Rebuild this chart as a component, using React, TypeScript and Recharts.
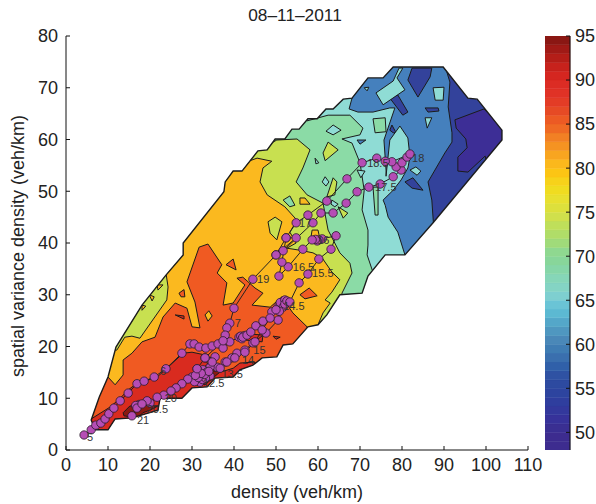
import { Bar, BarChart, Scatter, ScatterChart, XAxis, YAxis } from "recharts";

type Pt = [number, number];

// contour fills, low to high speed
const C_PURPLE = "#3d2e96";
const C_DARK = "#33429b";
const C_BLUE = "#4580bd";
const C_CYAN = "#8fdcd5";
const C_GREEN = "#8bdba6";
const C_LIME = "#c8e050";
const C_AMBER = "#fbb91f";
const C_ORANGE = "#f05a22";
const C_RED = "#d92b1f";
const C_DEEP = "#8a1a12";

const xTicks = [0, 10, 20, 30, 40, 50, 60, 70, 80, 90, 100, 110];
const yTicks = [0, 10, 20, 30, 40, 50, 60, 70, 80];
const barTicks = [50, 55, 60, 65, 70, 75, 80, 85, 90, 95];

// the area that has data at all
const outline: Pt[] = [[6,5.8],[7.9,10.2],[10,14.1],[11.9,19.9],[18.1,28],[23.8,33.8],[27.9,37.7],[27.9,40],[37.6,49.9],[37.9,51.8],[39.8,53.9],[41.9,53.9],[45.7,57.8],[47.9,58],[49.8,60.1],[52.1,60.1],[53.8,62],[55.5,62],[57.6,64],[59.8,64],[61.9,65.9],[63.6,65.9],[66,67.8],[68.1,68],[71.9,71.9],[75.5,71.9],[77.9,74],[89.8,74],[95.7,68],[97.9,67.8],[103.8,61.8],[103.8,59.9],[87.4,43.9],[80.7,37.7],[76,37.7],[71.9,33.6],[70.5,30.3],[65.2,30],[62.1,26.1],[60,24.2],[57.6,23.8],[54,20.5],[51.7,20.3],[50.2,18],[46.7,17.8],[44.5,16.4],[41.4,15.5],[39.8,14.1],[35.5,13.9],[33.6,12.2],[30,12],[27.6,10],[22.4,10],[21.9,7.7],[15.7,6.2],[11.7,6],[10,3.9],[6.9,3.9]];

// filled levels, each painted over the one before and cut to the outline
const purpleLevel: Pt[] = [[92.6,63.8],[99.5,65.9],[104.5,61.8],[104.5,59.9],[100,56],[99.8,56.8],[95.7,53.7],[93.3,53.9],[93.3,56.6],[95.5,58.4],[95.2,60.1],[92.9,62.2]];
const blueLevel: Pt[] = [[89.8,75.4],[91.4,71.1],[91,66.3],[91.9,61.3],[91.9,59.5],[90.2,57.4],[86.2,51.8],[87.1,48.3],[87.6,42.5],[84.3,34.8],[55.7,0],[0,0],[0,67.6],[65.2,75.4]];
const cyanLevel: Pt[] = [[68.1,69.6],[68.1,68],[67.4,65.9],[69.5,65.3],[73.1,65.3],[77.1,66.1],[78.3,66.1],[75.7,59.9],[76.2,54.1],[76.2,52.9],[77.1,59.9],[79.5,62.6],[81.4,60.3],[81.9,56.6],[81.4,54.5],[79.8,52.2],[77.9,50.2],[75.5,48.3],[76,47.3],[76.7,45],[79,42.1],[80.7,37.7],[84.3,34.8],[55.7,0],[0,0],[0,67.6]];
const greenLevel: Pt[] = [[57.4,67.6],[57.4,63.6],[62.4,64.7],[67.6,64.7],[70.7,62.2],[70,60.9],[65.7,60.1],[68.1,59.3],[70,55.5],[71,50.2],[70.5,46.4],[71.9,42.5],[71.9,39.6],[71.7,37.7],[72.9,34.8],[77.1,29],[55.7,0],[0,0],[0,67.6]];
const limeLevel: Pt[] = [[45,61.8],[45,57.6],[50.2,59.9],[55,60.1],[58.1,58],[56.4,54.5],[54.8,51.8],[57.4,49.3],[61.2,47.7],[62.4,42.5],[65.2,38.1],[67.6,36.1],[68.1,34.2],[65.7,30.3],[66.4,27.1],[43.8,0],[0,0],[0,61.8]];
const amberLevel: Pt[] = [[31.9,58],[42.6,57],[43.1,55.7],[45.5,56.4],[49,55.8],[46.9,54.5],[46.2,51.8],[47.9,49.3],[52.1,47],[55,44.4],[53.3,42.1],[54.8,40],[52.6,39],[55.7,38.6],[58.8,38.1],[61,37.1],[63.3,34.4],[65.2,32.9],[63.3,30.5],[61.7,29],[62.9,28.4],[61.2,26.5],[60,24.2],[60,21.3],[43.8,0],[0,0],[8.1,19.3],[12.1,19.3],[14,21.8],[15.7,22],[17.6,21.6],[24,29],[24.3,31.5],[23.8,34.2],[22.4,34.8]];
const orangeLevel: Pt[] = [[10,14.1],[11.7,12.6],[13.6,14.5],[13.6,17.4],[15.7,18.7],[18.1,20.9],[21.2,21.8],[23.1,25.7],[26,28.4],[28.8,27.4],[30,23.8],[31.9,23.6],[30.7,28.6],[28.8,32.5],[31.7,39.2],[33.8,39.8],[37.1,35.8],[36,34.2],[38.3,32.3],[37.4,28],[39.8,28.4],[42.6,31.9],[40.7,33.2],[42.1,33.4],[45,31.3],[46.9,30.3],[44.3,28],[48.6,27.6],[51.4,29.6],[54,26.5],[57.4,23.8],[58.1,20.3],[43.8,0],[0,0],[0,9.7]];
const redLevel: Pt[] = [[6,6],[10.5,8.3],[12.9,10],[14.8,11.6],[16.9,12.9],[21.7,14.1],[24,15.8],[27.9,18.7],[30,18.9],[32.9,18.4],[33.8,16.4],[36.2,14.9],[39.8,15.8],[41.4,16.8],[45,17],[45,14.5],[20,0],[0,0],[0,5.8]];

// small closed contours
const darkIslands: Pt[][] = [
  [[82.4,73.8],[87.1,73.8],[86.7,72.1],[83.8,68.2],[81.4,71.5]],
  [[77.1,68],[79,68.6],[81.4,65.3],[80.2,64.7]],
  [[85.5,66.1],[88.6,66.1],[88.8,65.5],[86.2,65.3]],
  [[77.6,62.8],[78.6,61.3],[77.9,61.3],[77.1,61.8]],
  [[80.7,51.8],[82.6,52.6],[85,50.2],[82.4,50.6]],
];
const blueIslands: Pt[][] = [[[69.3,59.9],[71.4,59.9],[70,59.1]]];
const cyanIslands: Pt[][] = [
  [[79.3,73.8],[77.9,71.3],[73.8,69],[75.5,66.7],[80.7,69.6],[78.8,71.9],[80.2,73.8]],
  [[71,70],[72.1,70.1],[71.7,69.4]],
  [[81.9,54.1],[83.3,54.7],[84.5,53.9],[83.6,53.1]],
  [[85.5,64.2],[87.1,64.2],[86,62.2]],
  [[87.4,70],[90,70.1],[89.8,67.6],[87.9,67.6]],
  [[69.3,54.1],[71.2,53.9],[70.2,52.6]],
  [[61.7,52.8],[62.6,51.8],[61.9,51],[61,51.8]],
  [[63.3,48.3],[64.8,47.5],[64,47],[63.1,47.5]],
  [[59.3,56.4],[60.2,55.5],[59.5,55.3]],
  [[61.9,61.6],[63.6,62.8],[65.5,61.8],[63.6,60.9]],
];
const greenIslands: Pt[][] = [
  [[73.1,64],[76,64.2],[76.2,61.5],[73.6,61.3]],
  [[73.1,50.8],[74.3,50.8],[74.3,45.4],[73.6,45.4]],
  [[51.7,48.3],[53.3,49.1],[54.5,47.3],[53.3,47]],
];
const limeIslands: Pt[][] = [
  [[62.4,59.5],[64.8,58],[61.7,55.9],[61.2,57.4]],
  [[63.6,52.6],[64.5,51.8],[64,49.3],[62.1,48.9]],
  [[64.8,47],[67.1,45.8],[66,44.8]],
  [[48.1,44.1],[49.8,45],[51.4,44.1],[50.2,40.6],[48.6,41.9]],
];
const amberIslands: Pt[][] = [
  [[55.7,48.7],[56.9,48.7],[58.1,47.5],[55.7,47.5]],
  [[58.6,42.5],[60,42.5],[60.5,40.6],[58.1,40]],
  [[21.7,31.9],[23.1,31.9],[21.9,30.9]],
  [[19.8,30],[21,29.6],[20.5,28.8]],
  [[18.1,28],[19,27.8],[18.1,27]],
  [[33.1,26.1],[34,26.9],[34.8,25.9],[33.8,24.9]],
];
const orangeIslands: Pt[][] = [
  [[26.9,30.3],[28.1,31],[28.3,29.6],[27.4,29.6]],
  [[38.1,35.8],[39.8,36.9],[40.5,34.8]],
  [[55.7,30],[57.9,31.3],[59.8,29.8],[56.9,29.2]],
];
const redIslands: Pt[][] = [
  [[41.4,22.6],[46.9,22.2],[46.7,20.9],[42.1,21.3]],
  [[26,26.1],[28.1,25.9],[28.1,25.3]],
  [[49.3,22],[51,21.8],[50,21.4]],
];
const deepIslands: Pt[][] = [
  [[13.6,7.2],[15.2,8.5],[17.6,8.7],[21.9,8.5],[20,7.7],[18.3,7.2],[17.1,6.2],[13.8,6.6]],
  [[29.5,13.1],[33.1,15.5],[36.7,15.1],[33.1,12.6]],
];

// one day's trajectory, half hour steps
const dayPath: Pt[] = [[4.3,2.9],[6,3.9],[7.1,4.8],[8.3,5.2],[9.3,6],[10.2,7],[11.4,8.1],[12.9,9.5],[14.8,11],[16.9,12.8],[18.6,13.3],[21,14.1],[23.8,15.7],[27.6,18.7],[29.5,20.5],[30.5,20.5],[31.7,19.9],[33.3,19.7],[34.8,20.1],[36.2,20.5],[37.4,19.7],[39,20.9],[41.2,21.8],[41.6,22],[42.5,22.1],[41.9,21.5],[42.1,21.8],[43.1,22.2],[44,22.8],[45.2,24],[46.9,24.9],[49,26.7],[50.5,27.6],[51,28.5],[52.1,29],[51.7,27.6],[50.8,26.8],[50.5,25.1],[47.6,22.6],[44.5,20.7],[42.6,19.3],[40.7,18.7],[39.5,17.8],[37.9,17],[36,16],[34.3,16],[32.6,15.5],[31.2,15.7],[31.9,14.5],[33.6,15.1],[31,13.7],[32.9,14.1],[30,14.1],[34.3,14.3],[31.9,13.1],[32.5,13.6],[33.2,13.9],[30.6,13.2],[31.5,14],[33,14.6],[34,15.2],[32.2,14.8],[30.8,14.4],[35.5,18],[33.1,17.8],[34.8,17],[36.7,15.8],[38.3,17],[40.2,17.8],[42.6,18.9],[45,20.9],[46.7,23.2],[48.6,25.5],[50,27.1],[52.1,28.2],[52.6,28.8],[53.3,28.6],[55.5,32.3],[57.6,34],[60.2,36.9],[63.1,38.8],[64.3,41.4],[61,40.8],[60.2,40.6],[59.8,40.4],[59.4,40.7],[58.6,40.6],[56.4,38.8],[52.9,35.4],[50.7,33.6],[51.4,36.3],[52.4,41],[54.8,41],[50,37.7],[51.7,38.5],[58.8,43.9],[60.7,45.8],[63.6,45.8],[66.7,47.7],[69.3,49.9],[72.1,50.8],[74.8,51.4],[77.9,52.8],[79.8,54.1],[78.6,54.7],[80,55.5],[81.2,56.6],[81.9,57.2],[77.6,55.7],[76,55.8],[74,56.4],[70.5,55.5],[66.9,52.4],[62.1,48.1],[57.6,45.4],[54.8,43.9],[52.4,41],[50,37.7],[44.5,33],[40,27.4],[39,24.5],[38.3,23.6],[37.9,22.2],[37.4,21.1],[33.1,17.8],[31.2,15.7],[29,13.7],[27.6,12.8],[26.2,12],[25,11.4],[23.3,10.6],[21.7,10.2],[20,9.1],[19.3,9.5],[17.4,8.8],[17.1,8.5],[16.6,8.6],[16.9,8.1],[18.1,8.9],[15.7,6.6]];

const hourLabels = ["5", "6", "7", "21", "20.5", "20", "15", "14", "13.5", "12.5", "14.5", "15.5", "16.5", "16", "17", "17.5", "18.5", "18", "19"];
const hourSpots: Pt[] = [[5,2.5],[22.4,15.3],[40.2,24.5],[16.9,5.8],[19.2,8],[23.5,10],[44.6,19.4],[41.9,17.4],[37,14.7],[32.6,12.9],[51.7,27.8],[58.6,34.2],[54,35.4],[59.8,40.6],[55.5,43.9],[73.6,50.8],[71.7,55.5],[82.4,56.4],[45.5,33]];

// colorbar bands, one per unit starting at 48
const bandColors = ["#3d2c8f","#3d2c8f","#3a2f92","#37329a","#33389c","#2f3e9e","#2d449f","#2d4aa0","#2f52a3","#3060a9","#3a6fae","#3f7cb3","#4a88b8","#4f97c0","#54a7c9","#5cb9d2","#6ac4d6","#7ecfd0","#84d4c4","#86d6b8","#86d6a8","#88d69a","#8fd890","#a0db7a","#b0dd68","#bfdf5a","#d0e04c","#dde03c","#e8e030","#f0dc20","#f7d21a","#fcc514","#fbb81c","#f8a520","#f59322","#f28024","#ef6a24","#ec5a24","#e64a25","#e33c26","#e03226","#dc2c24","#d52620","#c7221c","#b41e18","#a01a16","#8a1713"];

const toRows = (pts: Pt[]) => pts.map(([x, y]) => ({ x, y }));
const bandRow: Record<string, number> = { name: 0 as any };
bandColors.forEach((_, i) => { bandRow[`b${i}`] = i === 0 ? 49 : 1; });

const layers: { pts: Pt[]; fill: string; w?: number }[] = [
  { pts: outline, fill: C_DARK, w: 0 },
  { pts: purpleLevel, fill: C_PURPLE },
  { pts: blueLevel, fill: C_BLUE },
  ...darkIslands.map((pts) => ({ pts, fill: C_DARK })),
  { pts: cyanLevel, fill: C_CYAN },
  ...blueIslands.map((pts) => ({ pts, fill: C_BLUE })),
  ...cyanIslands.slice(0, 5).map((pts) => ({ pts, fill: C_CYAN })),
  { pts: greenLevel, fill: C_GREEN },
  ...greenIslands.slice(0, 2).map((pts) => ({ pts, fill: C_GREEN })),
  ...cyanIslands.slice(5).map((pts) => ({ pts, fill: C_CYAN })),
  ...limeIslands.slice(0, 3).map((pts) => ({ pts, fill: C_LIME })),
  { pts: limeLevel, fill: C_LIME },
  ...greenIslands.slice(2).map((pts) => ({ pts, fill: C_GREEN })),
  ...amberIslands.slice(0, 1).map((pts) => ({ pts, fill: C_AMBER })),
  ...amberIslands.slice(2, 5).map((pts) => ({ pts, fill: C_AMBER })),
  { pts: amberLevel, fill: C_AMBER },
  ...limeIslands.slice(3).map((pts) => ({ pts, fill: C_LIME })),
  ...amberIslands.slice(1, 2).map((pts) => ({ pts, fill: C_AMBER })),
  ...orangeIslands.map((pts) => ({ pts, fill: C_ORANGE })),
  { pts: orangeLevel, fill: C_ORANGE },
  ...amberIslands.slice(5).map((pts) => ({ pts, fill: C_AMBER })),
  ...redIslands.map((pts) => ({ pts, fill: C_RED })),
  { pts: redLevel, fill: C_RED },
  ...deepIslands.map((pts) => ({ pts, fill: C_DEEP })),
];

const toPath = (points: { x: number; y: number }[]) =>
  points.map((p, i) => `${i ? "L" : "M"}${p.x} ${p.y}`).join(" ") + " Z";

const FONT = "'Liberation Sans', Arial, sans-serif";
const tickStyle = { fill: "#222", fontSize: 18, fontFamily: FONT };
const blank = () => "";
const noShape = () => <g />;

export default function App() {
  return (
    <div style={{ position: "absolute", left: 0, top: 0, width: 596, height: 504, fontFamily: FONT }}>
      <div style={{ position: "absolute", left: 0, width: 590, top: 5, textAlign: "center", fontSize: 17.3, color: "#222" }}>
        08–11–2011
      </div>
      <div style={{ position: "absolute", left: 0, top: 0 }}>
        <ScatterChart width={596} height={504} margin={{ top: 36, right: 68, bottom: 4, left: 6 }}>
          <XAxis
            xAxisId="b"
            dataKey="x"
            type="number"
            domain={[0, 110]}
            ticks={xTicks}
            height={50}
            tickSize={-4}
            tickMargin={12}
            tick={tickStyle}
            stroke="#111"
            allowDataOverflow
            label={{ value: "density (veh/km)", position: "insideBottom", offset: 2, style: tickStyle }}
          />
          <XAxis xAxisId="t" orientation="top" type="number" domain={[0, 110]} ticks={xTicks} height={0} tickSize={-4} tickFormatter={blank} stroke="#111" />
          <YAxis
            yAxisId="l"
            dataKey="y"
            type="number"
            domain={[0, 80]}
            ticks={yTicks}
            width={60}
            tickSize={-4}
            tickMargin={12}
            tick={tickStyle}
            stroke="#111"
            allowDataOverflow
            label={{ value: "spatial variance density (veh/km)", angle: -90, position: "insideLeft", offset: 0, dx: 12, dy: 134, style: tickStyle }}
          />
          <YAxis yAxisId="r" orientation="right" type="number" domain={[0, 80]} ticks={yTicks} width={0} tickSize={-4} tickFormatter={blank} stroke="#111" />

          {layers.map((layer, i) => (
            <Scatter
              key={i}
              xAxisId="b"
              yAxisId="l"
              data={toRows(layer.pts)}
              isAnimationActive={false}
              shape={noShape}
              line={(p: any) => (
                <g>
                  {i === 0 && (
                    <defs>
                      <clipPath id="outlineClip">
                        <path d={toPath(p.points)} />
                      </clipPath>
                    </defs>
                  )}
                  <path
                    d={toPath(p.points)}
                    fill={layer.fill}
                    stroke="#1c1c1c"
                    strokeWidth={layer.w ?? 1}
                    strokeLinejoin="round"
                    clipPath="url(#outlineClip)"
                  />
                </g>
              )}
            />
          ))}
          <Scatter
            xAxisId="b"
            yAxisId="l"
            data={toRows(outline)}
            isAnimationActive={false}
            shape={noShape}
            line={(p: any) => <path d={toPath(p.points)} fill="none" stroke="#1c1c1c" strokeWidth={1.4} />}
          />
          <Scatter
            xAxisId="b"
            yAxisId="l"
            data={toRows(dayPath)}
            isAnimationActive={false}
            line={{ stroke: "#222", strokeWidth: 1 }}
            shape={(p: any) => <circle cx={p.cx} cy={p.cy} r={4.2} fill="#b54db5" stroke="#2a1a2a" strokeWidth={0.8} />}
          />
          <Scatter
            xAxisId="b"
            yAxisId="l"
            data={hourSpots.map(([x, y], i) => ({ x, y, text: hourLabels[i] }))}
            isAnimationActive={false}
            shape={(p: any) => (
              <text x={p.cx} y={p.cy} dy={4} fontSize={11} fill="#333" fontFamily={FONT}>
                {p.payload.text}
              </text>
            )}
          />
        </ScatterChart>
      </div>
      <div style={{ position: "absolute", left: 545, top: 0 }}>
        <BarChart
          width={51}
          height={504}
          data={[bandRow]}
          barCategoryGap={0}
          margin={{ top: 36, right: 0, bottom: 54, left: 0 }}
        >
          <XAxis xAxisId="b" dataKey="name" height={0} tick={false} tickLine={false} stroke="#111" />
          <XAxis xAxisId="t" orientation="top" dataKey="name" height={0} tick={false} tickLine={false} stroke="#111" />
          <YAxis yAxisId="l" type="number" domain={[48, 95]} ticks={barTicks} width={0} tickSize={-4} tickFormatter={blank} stroke="#111" allowDataOverflow />
          <YAxis yAxisId="r" orientation="right" type="number" domain={[48, 95]} ticks={barTicks} width={26} tickSize={-4} tickMargin={9} tick={tickStyle} stroke="#111" allowDataOverflow />
          {bandColors.map((c, i) => (
            <Bar key={i} xAxisId="b" yAxisId="l" dataKey={`b${i}`} stackId="cb" fill={c} stroke={c} strokeWidth={0.5} isAnimationActive={false} />
          ))}
        </BarChart>
      </div>
    </div>
  );
}
